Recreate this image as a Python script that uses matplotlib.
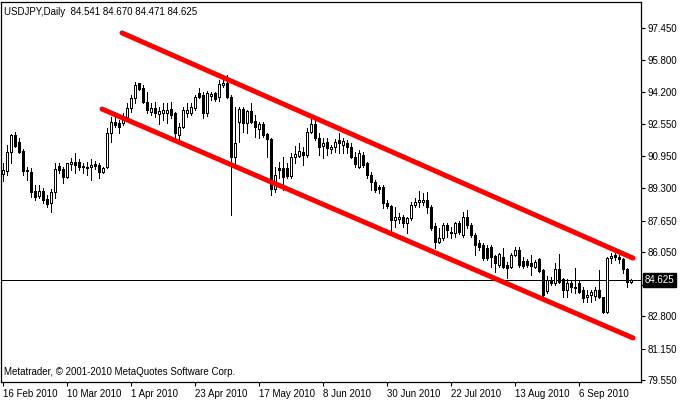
import matplotlib
matplotlib.use("Agg")
import matplotlib.pyplot as plt
import matplotlib.transforms as mtransforms
import numpy as np
import pandas as pd

# ---------------- data ----------------
symbol_title = "USDJPY,Daily  84.541 84.670 84.471 84.625"
copyright_text = "Metatrader, \u00a9 2001-2010 MetaQuotes Software Corp."

dates = pd.bdate_range("2010-02-16", periods=158)

opens = [90.02, 90.19, 91.16, 92.01, 91.63, 91.21, 90.23, 90.14, 89.16, 88.92,
         89.16, 88.75, 88.53, 89.09, 90.43, 90.26, 89.85, 90.52, 90.65, 90.65,
         90.36, 90.40, 90.36, 90.52, 90.48, 90.11, 90.40, 92.09, 92.69, 92.60,
         92.60, 92.94, 93.36, 93.87, 94.64, 94.38, 93.70, 93.20, 93.36, 93.06,
         93.11, 93.14, 93.31, 93.11, 92.01, 92.43, 93.11, 93.11, 93.36, 94.13,
         94.06, 93.11, 93.99, 94.13, 93.92, 94.55, 94.64, 93.96, 90.91, 92.69,
         93.31, 92.64, 93.23, 92.72, 92.30, 92.55, 92.06, 91.79, 89.25, 90.31,
         90.31, 90.31, 89.92, 90.91, 90.94, 91.16, 90.99, 92.18, 92.57, 91.84,
         91.45, 91.67, 91.28, 91.38, 91.75, 91.50, 91.59, 91.42, 90.91, 90.40,
         91.00, 90.57, 89.97, 89.64, 89.38, 89.38, 88.53, 88.40, 87.69, 87.72,
         87.82, 87.55, 87.77, 88.45, 88.62, 88.62, 88.70, 88.36, 87.38, 86.58,
         86.75, 87.43, 87.01, 87.01, 87.52, 86.92, 87.86, 87.43, 86.92, 86.50,
         86.41, 86.24, 86.33, 85.86, 85.40, 85.82, 85.40, 85.31, 85.91, 86.16,
         85.62, 85.62, 85.49, 85.28, 85.69, 85.14, 84.08, 84.64, 84.47, 85.18,
         84.67, 84.13, 84.50, 84.25, 84.47, 84.13, 83.79, 83.87, 83.84, 84.13,
         83.79, 83.03, 85.74, 85.91, 85.79, 85.69, 85.18, 84.541]
highs = [90.60, 91.50, 92.06, 92.18, 91.84, 91.28, 90.40, 90.31, 89.46, 89.46,
         89.30, 88.96, 89.26, 90.60, 90.60, 90.40, 90.60, 90.85, 91.07, 90.77,
         90.57, 90.65, 90.77, 90.70, 90.57, 90.40, 92.35, 92.94, 92.94, 92.77,
         93.11, 93.62, 94.04, 94.72, 94.67, 94.55, 94.21, 93.62, 93.70, 93.45,
         93.62, 93.62, 93.70, 93.20, 92.60, 93.45, 93.62, 93.62, 94.04, 94.38,
         94.21, 94.25, 94.21, 94.21, 94.81, 95.06, 95.06, 94.04, 93.45, 93.45,
         93.45, 93.28, 93.65, 93.03, 92.69, 92.69, 92.09, 91.84, 90.40, 90.62,
         90.91, 90.57, 91.08, 91.45, 91.59, 91.42, 92.35, 92.86, 92.94, 92.09,
         91.84, 91.84, 91.50, 91.79, 92.09, 91.84, 91.75, 91.59, 91.16, 91.25,
         91.16, 90.65, 90.14, 89.72, 89.47, 89.47, 88.70, 88.45, 88.36, 88.03,
         87.94, 87.86, 88.62, 88.79, 89.16, 89.04, 89.13, 88.45, 87.52, 87.26,
         87.52, 87.55, 87.35, 87.60, 87.64, 88.11, 88.19, 87.55, 87.01, 86.67,
         86.50, 86.41, 86.41, 85.91, 85.99, 86.24, 85.57, 85.99, 86.33, 86.33,
         85.82, 85.69, 85.91, 85.65, 85.74, 85.18, 84.84, 84.81, 85.48, 85.96,
         84.72, 84.67, 84.64, 85.23, 84.64, 84.30, 84.13, 84.13, 84.30, 85.14,
         83.79, 85.80, 85.99, 85.99, 85.91, 85.74, 85.23, 84.670]
lows = [89.67, 89.97, 90.57, 91.41, 91.07, 89.97, 89.72, 88.87, 88.70, 88.79,
        88.53, 88.36, 88.11, 88.79, 90.09, 89.55, 89.80, 90.23, 90.06, 90.23,
        90.06, 89.97, 89.72, 90.26, 89.80, 90.09, 90.31, 91.67, 92.43, 92.09,
        92.52, 92.86, 93.20, 93.62, 94.30, 93.62, 93.11, 93.03, 92.94, 92.57,
        92.77, 92.60, 92.86, 91.92, 91.75, 92.35, 92.94, 93.03, 93.28, 93.87,
        92.85, 92.98, 93.79, 93.72, 93.72, 94.47, 93.87, 87.94, 90.40, 91.67,
        92.18, 92.09, 92.60, 91.92, 91.84, 91.92, 90.91, 88.96, 89.13, 89.81,
        89.21, 89.81, 89.81, 90.57, 90.91, 90.48, 90.91, 92.09, 91.75, 90.99,
        90.82, 90.99, 91.08, 91.16, 91.08, 91.08, 91.08, 90.82, 90.40, 90.31,
        90.40, 89.80, 89.21, 89.13, 89.04, 88.28, 88.30, 86.92, 87.35, 87.52,
        87.35, 87.01, 87.69, 88.36, 88.36, 88.45, 88.02, 87.18, 86.25, 86.50,
        86.67, 86.84, 86.75, 86.84, 86.95, 86.84, 87.26, 86.84, 85.91, 86.16,
        85.65, 85.65, 85.31, 85.06, 85.31, 85.23, 84.72, 85.23, 85.86, 85.28,
        85.23, 85.32, 84.89, 85.23, 85.06, 83.62, 83.96, 84.38, 84.38, 84.47,
        83.79, 83.79, 84.04, 83.96, 83.96, 83.53, 83.53, 83.53, 83.62, 83.70,
        82.94, 82.98, 85.48, 85.65, 85.48, 84.98, 84.30, 84.471]
closes = [90.23, 91.16, 92.01, 91.46, 91.16, 90.19, 90.18, 89.13, 88.87, 89.16,
          88.70, 88.50, 89.13, 90.26, 90.23, 89.89, 90.57, 90.65, 90.48, 90.40,
          90.43, 90.31, 90.48, 90.45, 90.14, 90.35, 92.09, 92.69, 92.52, 92.43,
          92.94, 93.36, 93.87, 94.55, 94.33, 93.70, 93.28, 93.36, 93.11, 93.23,
          93.28, 93.28, 93.03, 92.09, 92.43, 93.28, 93.28, 93.45, 93.96, 93.96,
          93.11, 94.13, 94.08, 93.82, 94.60, 94.67, 93.96, 90.91, 91.59, 93.31,
          92.64, 93.23, 92.69, 92.43, 92.55, 92.01, 91.79, 89.25, 89.97, 90.23,
          89.89, 89.92, 90.91, 91.03, 91.20, 90.99, 92.18, 92.57, 91.84, 91.42,
          91.59, 91.33, 91.42, 91.67, 91.59, 91.70, 91.38, 90.91, 90.53, 91.08,
          90.48, 89.97, 89.64, 89.21, 89.25, 88.53, 88.38, 87.69, 87.82, 87.82,
          87.55, 87.77, 88.45, 88.62, 88.70, 88.70, 88.36, 87.26, 86.58, 86.75,
          87.43, 87.18, 87.10, 87.52, 87.10, 87.86, 87.43, 86.92, 86.41, 86.33,
          85.74, 85.74, 85.82, 85.48, 85.96, 85.31, 85.23, 85.91, 86.16, 85.40,
          85.35, 85.40, 85.35, 85.57, 85.11, 83.87, 84.64, 84.47, 85.18, 84.55,
          84.13, 84.50, 84.30, 84.30, 84.04, 83.70, 83.87, 84.04, 84.13, 83.79,
          83.03, 85.74, 85.86, 85.82, 85.69, 85.18, 84.55, 84.625]

last_price = 84.625
price_ticks = [97.450, 95.800, 94.200, 92.550, 90.950, 89.300, 87.650,
               86.050, 84.400, 82.800, 81.150, 79.550]
date_tick_dates = ["2010-02-16", "2010-03-10", "2010-04-01", "2010-04-23",
                   "2010-05-17", "2010-06-08", "2010-06-30", "2010-07-22",
                   "2010-08-13", "2010-09-06"]
date_tick_labels = ["16 Feb 2010", "10 Mar 2010", "1 Apr 2010", "23 Apr 2010",
                    "17 May 2010", "8 Jun 2010", "30 Jun 2010", "22 Jul 2010",
                    "13 Aug 2010", "6 Sep 2010"]
# trend channel anchors (bar position, price)
upper_bars = [29.75, 157.5]
upper_prices = [97.20, 85.75]
lower_bars = [24.75, 157.5]
lower_prices = [93.33, 81.69]

# ---------------- plot ----------------
plt.rcParams['font.family'] = ['Liberation Sans', 'DejaVu Sans']
fig = plt.figure(figsize=(6.8, 4.0), dpi=100)
ax = fig.add_axes([1 / 680, 18 / 400, 640 / 680, 380 / 400])

n = len(opens)
x = np.arange(n)
o = np.array(opens); h = np.array(highs); l = np.array(lows); c = np.array(closes)

LW = 0.72  # one pixel
ax.vlines(x, l, h, color="black", linewidth=LW, antialiased=False, zorder=2)
up = c >= o
bottoms = np.minimum(o, c)
heights = np.maximum(np.abs(c - o), 0.01)
ax.bar(x[up], heights[up], bottom=bottoms[up], width=0.5, color="white",
       edgecolor="black", linewidth=LW, zorder=3, antialiased=False)
ax.bar(x[~up], heights[~up], bottom=bottoms[~up], width=0.5, color="black",
       edgecolor="black", linewidth=LW, zorder=3, antialiased=False)

ax.plot(upper_bars, upper_prices, color="#ff0000", linewidth=3.6,
        solid_capstyle="round", zorder=4)
ax.plot(lower_bars, lower_prices, color="#ff0000", linewidth=3.6,
        solid_capstyle="round", zorder=4)

ax.axhline(last_price, color="black", linewidth=LW, zorder=1)

ax.set_xlim(-0.5, 159.5)
ax.set_ylim(79.45, 98.77)

ax.yaxis.tick_right()
ax.set_yticks(price_ticks)
ax.set_yticklabels(["" if abs(v - 84.4) < 1e-6 else f"{v:.3f}" for v in price_ticks])
ax.tick_params(axis="y", direction="out", length=3, width=0.8, labelsize=7,
               pad=2, colors="black")

tick_pos = [dates.get_loc(pd.Timestamp(d)) for d in date_tick_dates]
ax.set_xticks(tick_pos)
ax.set_xticklabels(date_tick_labels, ha="left")
ax.tick_params(axis="x", direction="out", length=3, width=0.8, labelsize=7,
               pad=2, colors="black")

for sp in ax.spines.values():
    sp.set_linewidth(0.9)
    sp.set_color("black")

trans = mtransforms.blended_transform_factory(ax.transAxes, ax.transData)
ax.annotate(f"{last_price:.3f}", xy=(1.0, last_price), xycoords=trans,
            xytext=(2.5, 0), textcoords="offset points", ha="left", va="center",
            fontsize=7, color="white", zorder=10, annotation_clip=False,
            bbox=dict(boxstyle="square,pad=0.2", fc="black", ec="black"))

ax.text(3 / 640, 1 - 10 / 380, symbol_title, transform=ax.transAxes,
        fontsize=7, ha="left", va="center", color="black")
ax.text(3 / 640, 10 / 380, copyright_text, transform=ax.transAxes,
        fontsize=7, ha="left", va="center", color="black")

fig.savefig("out.png", dpi=100, facecolor="white")
